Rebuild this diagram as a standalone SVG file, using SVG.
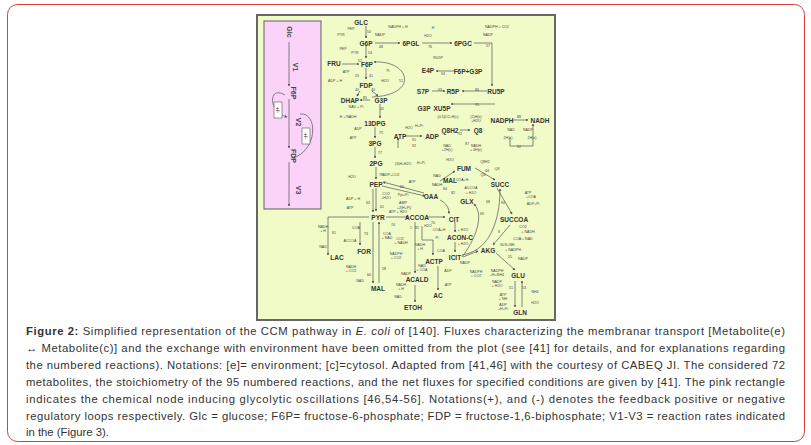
<svg xmlns="http://www.w3.org/2000/svg" width="811" height="445" viewBox="0 0 811 445">
<style>
.m{font-family:"Liberation Sans",Arial,sans-serif;font-weight:bold;font-size:6.5px;fill:#333;text-anchor:middle}
.s{font-family:"Liberation Sans",Arial,sans-serif;font-size:3.6px;fill:#444;text-anchor:middle}
.c{font-family:"Liberation Sans",Arial,sans-serif;font-size:11.3px;fill:#333}
.e path,.e line{stroke:#555;stroke-width:0.7;fill:none;marker-end:url(#a)}
.p{font-family:"Liberation Sans",Arial,sans-serif;font-weight:bold;font-size:7px;fill:#444;text-anchor:middle}
</style>
<defs><marker id="a" viewBox="0 0 6 6" refX="5" refY="3" markerWidth="4" markerHeight="4" orient="auto"><path d="M0,0L6,3L0,6z" fill="#555"/></marker></defs>
<rect x="7.5" y="4.5" width="797" height="437" rx="10" fill="#fff" stroke="#d9403a"/>
<rect x="257" y="15" width="298" height="305" fill="#f0fbc8" stroke="#666" stroke-width="2"/>
<g id="pink">
<rect x="264" y="21" width="57" height="188" fill="#fbd2f8" stroke="#777" stroke-width="1.2"/>
<g class="e"><line x1="289" y1="42" x2="289" y2="86"/><line x1="289" y1="99" x2="289" y2="148"/><line x1="289" y1="162" x2="289" y2="206"/>
<path d="M285,95 C268,85 268,112 287,117"/><path d="M300,114 C318,112 318,150 293,158"/></g>
<rect x="274" y="102" width="8" height="16" fill="#fff" stroke="#555" stroke-width="0.6"/>
<rect x="302" y="128" width="8" height="16" fill="#fff" stroke="#555" stroke-width="0.6"/>
<text class="p" transform="translate(287,32) rotate(90)">Glc</text>
<text class="p" transform="translate(293,67) rotate(90)">V1</text>
<text class="p" transform="translate(291,93) rotate(90)">F6P</text>
<text class="p" transform="translate(296,122) rotate(90)">V2</text>
<text class="p" transform="translate(291,156) rotate(90)">FDP</text>
<text class="p" transform="translate(296,190) rotate(90)">V3</text>
<text class="p" style="font-size:5px" transform="translate(276,110) rotate(90)">+/-</text>
<text class="p" style="font-size:5px" transform="translate(304,136) rotate(90)">+/-</text>
</g>
<g id="connectors" class="e">
<line x1="366" y1="26" x2="366" y2="38"/><line x1="366" y1="46" x2="366" y2="58"/><line x1="366" y1="68" x2="366" y2="79"/>
<line x1="342" y1="64" x2="359" y2="64"/><line x1="375" y1="43" x2="400" y2="43"/><line x1="422" y1="43" x2="452" y2="43"/>
<path d="M474,43 H492 V86"/><line x1="360" y1="91" x2="357" y2="96"/><line x1="372" y1="91" x2="378" y2="96"/>
<line x1="370" y1="100" x2="360" y2="100"/><line x1="380" y1="104" x2="380" y2="118"/><line x1="375" y1="127" x2="375" y2="138"/>
<line x1="375" y1="147" x2="375" y2="158"/><line x1="376" y1="167" x2="376" y2="179"/><line x1="376" y1="188" x2="376" y2="211"/>
<path d="M372,97 C420,95 410,60 374,62"/><line x1="455" y1="71" x2="436" y2="71"/><line x1="432" y1="91" x2="445" y2="91"/>
<line x1="487" y1="91" x2="462" y2="91"/><path d="M495,104 H451"/><path d="M398,148 V138"/><line x1="405" y1="136" x2="422" y2="136"/>
<line x1="460" y1="130" x2="470" y2="130"/><line x1="512" y1="120" x2="528" y2="120"/><path d="M510,137 V146 H533 V124"/>
<path d="M382,186 L425,196"/><path d="M424,193 L383,182"/><line x1="373" y1="189" x2="373" y2="212"/>
<path d="M369,217 H328 V255"/><line x1="360" y1="222" x2="360" y2="245"/><line x1="386" y1="217" x2="408" y2="217"/>
<line x1="428" y1="217" x2="445" y2="217"/><path d="M440,200 C450,205 448,212 450,213"/><line x1="379" y1="283" x2="379" y2="222"/>
<line x1="373" y1="222" x2="373" y2="283"/><line x1="455" y1="222" x2="455" y2="232"/><line x1="455" y1="242" x2="455" y2="252"/>
<path d="M462,255 C495,250 500,210 500,189"/><path d="M462,257 C475,240 485,215 474,204"/><line x1="463" y1="257" x2="478" y2="251"/>
<line x1="440" y1="181" x2="455" y2="171"/><line x1="475" y1="168" x2="495" y2="180"/><path d="M497,188 L512,214"/>
<path d="M510,225 L493,245"/><line x1="496" y1="253" x2="515" y2="270"/><line x1="515" y1="281" x2="515" y2="307"/>
<line x1="522" y1="307" x2="522" y2="281"/><line x1="415" y1="222" x2="415" y2="273"/><line x1="415" y1="285" x2="415" y2="302"/>
<path d="M422,226 V240 H433 V255"/><line x1="438" y1="266" x2="438" y2="290"/>
</g>
<g id="nodes">
<g id="n-glc"><text class="m" x="361" y="25">GLC</text></g>
<g id="n-g6p"><text class="m" x="366" y="46">G6P</text></g>
<g id="n-6pgl"><text class="m" x="411" y="46">6PGL</text></g>
<g id="n-6pgc"><text class="m" x="463" y="46">6PGC</text></g>
<g id="n-fru"><text class="m" x="334" y="66">FRU</text></g>
<g id="n-f6p"><text class="m" x="367" y="67">F6P</text></g>
<g id="n-fdp"><text class="m" x="366" y="88">FDP</text></g>
<g id="n-dhap"><text class="m" x="350" y="103">DHAP</text></g>
<g id="n-g3p"><text class="m" x="381" y="103">G3P</text></g>
<g id="n-13dpg"><text class="m" x="375" y="126">13DPG</text></g>
<g id="n-3pg"><text class="m" x="375" y="146">3PG</text></g>
<g id="n-2pg"><text class="m" x="376" y="166">2PG</text></g>
<g id="n-pep"><text class="m" x="376" y="187">PEP</text></g>
<g id="n-pyr"><text class="m" x="378" y="220">PYR</text></g>
<g id="n-lac"><text class="m" x="337" y="260">LAC</text></g>
<g id="n-for"><text class="m" x="364" y="254">FOR</text></g>
<g id="n-mal2"><text class="m" x="378" y="291">MAL</text></g>
<g id="n-e4p"><text class="m" x="428" y="73">E4P</text></g>
<g id="n-f6pg3p"><text class="m" x="468" y="74">F6P+G3P</text></g>
<g id="n-s7p"><text class="m" x="423" y="94">S7P</text></g>
<g id="n-r5p"><text class="m" x="453" y="94">R5P</text></g>
<g id="n-ru5p"><text class="m" x="496" y="94">RU5P</text></g>
<g id="n-g3p2"><text class="m" x="424" y="111">G3P</text></g>
<g id="n-xu5p"><text class="m" x="442" y="111">XU5P</text></g>
<g id="n-atp"><text class="m" x="400" y="139">ATP</text></g>
<g id="n-adp"><text class="m" x="432" y="139">ADP</text></g>
<g id="n-q8h2"><text class="m" x="450" y="133">Q8H2</text></g>
<g id="n-q8"><text class="m" x="478" y="133">Q8</text></g>
<g id="n-nadph"><text class="m" x="502" y="123">NADPH</text></g>
<g id="n-nadh"><text class="m" x="540" y="123">NADH</text></g>
<g id="n-fum"><text class="m" x="464" y="171">FUM</text></g>
<g id="n-mal"><text class="m" x="450" y="183">MAL</text></g>
<g id="n-succ"><text class="m" x="500" y="187">SUCC</text></g>
<g id="n-oaa"><text class="m" x="431" y="199">OAA</text></g>
<g id="n-glx"><text class="m" x="467" y="204">GLX</text></g>
<g id="n-accoa"><text class="m" x="417" y="220">ACCOA</text></g>
<g id="n-cit"><text class="m" x="454" y="222">CIT</text></g>
<g id="n-succoa"><text class="m" x="514" y="222">SUCCOA</text></g>
<g id="n-aconc"><text class="m" x="460" y="240">ACON-C</text></g>
<g id="n-akg"><text class="m" x="488" y="253">AKG</text></g>
<g id="n-icit"><text class="m" x="455" y="260">ICIT</text></g>
<g id="n-actp"><text class="m" x="434" y="264">ACTP</text></g>
<g id="n-glu"><text class="m" x="518" y="278">GLU</text></g>
<g id="n-acald"><text class="m" x="417" y="282">ACALD</text></g>
<g id="n-ac"><text class="m" x="438" y="298">AC</text></g>
<g id="n-etoh"><text class="m" x="413" y="310">ETOH</text></g>
<g id="n-gln"><text class="m" x="520" y="315">GLN</text></g>
</g>
<g id="labels">
<text class="s" x="369" y="33">50</text><text class="s" x="351" y="30">PEP</text><text class="s" x="341" y="36">PYR</text>
<text class="s" x="380" y="36">NADP</text><text class="s" x="381" y="48">48</text><text class="s" x="398" y="28">NADPH + H</text>
<text class="s" x="343" y="50">PEP</text><text class="s" x="355" y="54">PYR</text><text class="s" x="370" y="54">54</text><text class="s" x="360" y="62">52</text>
<text class="s" x="346" y="73">ATP</text><text class="s" x="388" y="72">Pi</text><text class="s" x="357" y="77">55</text><text class="s" x="371" y="77">41</text>
<text class="s" x="335" y="82">ADP + H</text><text class="s" x="385" y="82">H2O</text><text class="s" x="401" y="82">51</text>
<text class="s" x="357" y="91">40</text><text class="s" x="373" y="91">40</text><text class="s" x="365" y="99">85</text>
<text class="s" x="356" y="108">NAD + Pi</text><text class="s" x="382" y="110">45</text><text class="s" x="348" y="118">H + NADH</text>
<text class="s" x="358" y="130">ADP</text><text class="s" x="381" y="134">75</text><text class="s" x="353" y="139">ATP</text><text class="s" x="380" y="154">77</text>
<text class="s" x="352" y="178">H2O</text><text class="s" x="381" y="176">78</text><text class="s" x="391" y="176">ADP+CO2</text>
<text class="s" x="353" y="200">ADP + H</text><text class="s" x="368" y="204">63</text><text class="s" x="350" y="209">ATP</text>
<text class="s" x="386" y="195">CO2</text><text class="s" x="386" y="199">+H2O</text><text class="s" x="382" y="208">61</text><text class="s" x="403" y="204">AMP</text><text class="s" x="404" y="209">+2(H+Pi)</text><text class="s" x="398" y="213">ATP + H2O</text>
<text class="s" x="323" y="228">NADH</text><text class="s" x="323" y="232">+ H</text><text class="s" x="334" y="234">81</text><text class="s" x="323" y="248">NAD</text>
<text class="s" x="356" y="229">COA</text><text class="s" x="366" y="235">73</text><text class="s" x="350" y="242">ACCOA</text>
<text class="s" x="387" y="235">COA</text><text class="s" x="387" y="239">+ NAD</text><text class="s" x="393" y="226">74</text><text class="s" x="400" y="240">CO2</text><text class="s" x="401" y="244">+ NADH</text>
<text class="s" x="396" y="255">NADPH</text><text class="s" x="396" y="259">+ CO2</text><text class="s" x="351" y="268">NADH</text><text class="s" x="351" y="272">+ CO2</text>
<text class="s" x="384" y="270">58</text><text class="s" x="406" y="275">NADP</text><text class="s" x="369" y="276">60</text><text class="s" x="360" y="282">NAD</text>
<text class="s" x="401" y="286">NADH</text><text class="s" x="401" y="290">+ H</text><text class="s" x="398" y="298">NAD</text>
<text class="s" x="428" y="37">H2O</text><text class="s" x="433" y="29">H</text><text class="s" x="430" y="48">76</text>
<text class="s" x="497" y="28">NADPH + CO2</text><text class="s" x="488" y="36">NADP</text><text class="s" x="488" y="47">57</text>
<text class="s" x="438" y="59">RU5P</text><text class="s" x="443" y="75">94</text><text class="s" x="440" y="91">93</text><text class="s" x="477" y="91">86</text><text class="s" x="477" y="106">95</text>
<text class="s" x="409" y="129">H2O</text><text class="s" x="419" y="127">H+Pi</text><text class="s" x="414" y="141">91</text><text class="s" x="414" y="147">92</text>
<text class="s" x="403" y="165">(3)H+H2O</text><text class="s" x="421" y="164">H+Pi</text>
<text class="s" x="448" y="118">(0.5)O2+H(c)</text><text class="s" x="476" y="118">(2)H(e)</text><text class="s" x="476" y="122">+H2O</text>
<text class="s" x="460" y="135">92</text><text class="s" x="467" y="145">87</text><text class="s" x="447" y="147">NAD</text><text class="s" x="447" y="151">+2H(c)</text><text class="s" x="476" y="147">NADH</text><text class="s" x="476" y="151">+ 4H(e)</text>
<text class="s" x="519" y="118">88</text><text class="s" x="511" y="131">NAD</text><text class="s" x="528" y="131">NADP</text><text class="s" x="508" y="139">2H(c)</text><text class="s" x="532" y="139">2H(e)</text><text class="s" x="519" y="148">92</text>
<text class="s" x="450" y="161">H2O</text><text class="s" x="485" y="163">Q8H2</text><text class="s" x="487" y="172">44</text><text class="s" x="497" y="170">Q8</text><text class="s" x="483" y="176">Q8</text>
<text class="s" x="437" y="177">NAD</text><text class="s" x="437" y="186">NADH</text><text class="s" x="445" y="190">84</text><text class="s" x="462" y="181">COA+H</text>
<text class="s" x="412" y="183">ATP</text><text class="s" x="402" y="188">66</text><text class="s" x="403" y="196">Ppi+Pi</text>
<text class="s" x="471" y="189">ACCOA</text><text class="s" x="471" y="194">+ H2O</text><text class="s" x="453" y="194">82</text>
<text class="s" x="488" y="203">68</text><text class="s" x="482" y="215">69</text>
<text class="s" x="528" y="194">ATP</text><text class="s" x="531" y="198">+COA</text><text class="s" x="503" y="204">90</text><text class="s" x="533" y="205">ADP+Pi</text>
<text class="s" x="523" y="228">CO2</text><text class="s" x="528" y="233">+ NADH</text><text class="s" x="499" y="233">8</text><text class="s" x="523" y="240">COA + NAD</text>
<text class="s" x="433" y="224">70</text><text class="s" x="428" y="227">H2O</text><text class="s" x="439" y="231">COA+H</text><text class="s" x="463" y="231">+ H2O</text><text class="s" x="463" y="245">+ H2O</text>
<text class="s" x="507" y="246">GLN+NH</text><text class="s" x="513" y="251">+ NADPH</text><text class="s" x="523" y="260">NADP</text><text class="s" x="510" y="258">55</text>
<text class="s" x="465" y="264">NADP</text><text class="s" x="476" y="273">NADPH</text><text class="s" x="476" y="277">+ CO2</text>
<text class="s" x="497" y="272">NADPH</text><text class="s" x="497" y="276">+H+NH4</text><text class="s" x="497" y="283">NADP</text><text class="s" x="497" y="287">+ H2O</text>
<text class="s" x="503" y="296">ATP</text><text class="s" x="503" y="300">+ NH</text><text class="s" x="503" y="306">ADP</text><text class="s" x="503" y="310">+H+Pi</text>
<text class="s" x="535" y="293">NH4</text><text class="s" x="535" y="304">H2O</text><text class="s" x="511" y="289">51</text><text class="s" x="524" y="289">53</text>
<text class="s" x="420" y="246">NADH</text><text class="s" x="420" y="250">+ H</text><text class="s" x="422" y="267">NAD</text><text class="s" x="422" y="271">+ COA</text>
<text class="s" x="437" y="239">Pi</text><text class="s" x="441" y="252">COA</text><text class="s" x="448" y="272">ADP</text><text class="s" x="448" y="286">ATP</text>
<text class="s" x="411" y="229">1</text><text class="s" x="417" y="229">82</text>
</g>
<g id="caption">
<text class="c" x="26" y="335" textLength="759" lengthAdjust="spacing"><tspan font-weight="bold">Figure 2:</tspan> Simplified representation of the CCM pathway in <tspan font-style="italic">E. coli</tspan> of [140]. Fluxes characterizing the membranar transport [Metabolite(e)</text>
<text class="c" x="26" y="352" textLength="759" lengthAdjust="spacing">↔ Metabolite(c)] and the exchange with environment have been omitted from the plot (see [41] for details, and for explanations regarding</text>
<text class="c" x="26" y="369" textLength="759" lengthAdjust="spacing">the numbered reactions). Notations: [e]= environment; [c]=cytosol. Adapted from [41,46] with the courtesy of CABEQ JI. The considered 72</text>
<text class="c" x="26" y="386" textLength="759" lengthAdjust="spacing">metabolites, the stoichiometry of the 95 numbered reactions, and the net fluxes for specified conditions are given by [41]. The pink rectangle</text>
<text class="c" x="26" y="403" textLength="759" lengthAdjust="spacing">indicates the chemical node inducing glycolytic oscillations [46,54-56]. Notations(+), and (-) denotes the feedback positive or negative</text>
<text class="c" x="26" y="420" textLength="759" lengthAdjust="spacing">regulatory loops respectively. Glc = glucose; F6P= fructose-6-phosphate; FDP = fructose-1,6-biphosphate; V1-V3 = reaction rates indicated</text>
<text class="c" x="26" y="436">in the (Figure 3).</text>
</g>
</svg>
